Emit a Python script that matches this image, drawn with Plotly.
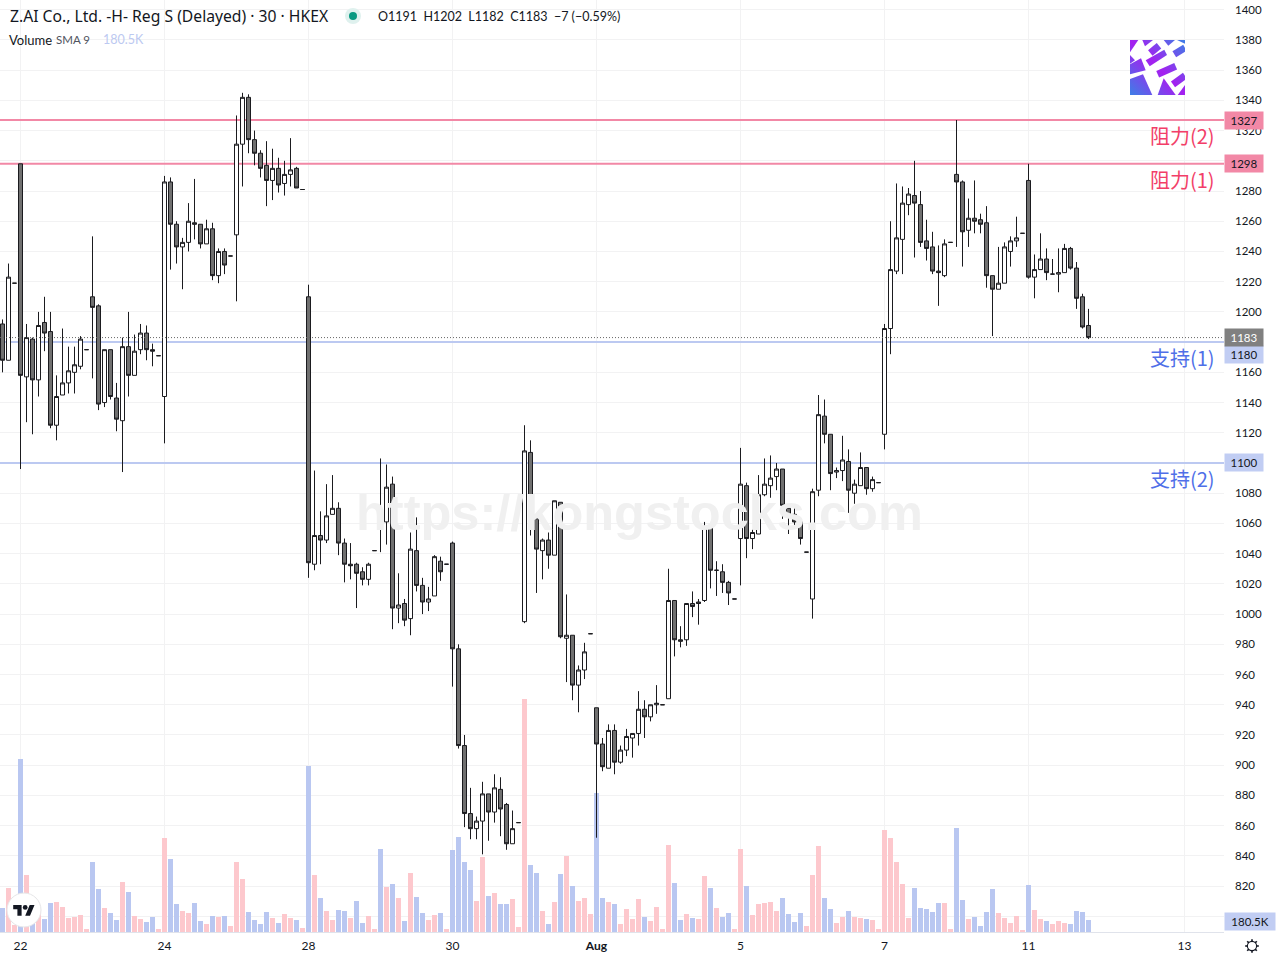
import base64
import plotly.graph_objects as go

FONT = "Lato"
CJK = "Noto Sans CJK SC"

opens = [1192,1168,1219,1298,1157,1182,1155,1193,1187,1125,
1145,1153,1160,1164,1175,1210,1204,1140,1175,1143,
1128,1177,1158,1175,1186,1175,1171,1144,1286,1258,
1243,1246,1259,1258,1245,1255,1224,1240,1237,1251,
1311,1342,1314,1305,1297,1287,1295,1285,1291,1295,
1281,1210,1033,1052,1049,1066,1070,1047,1033,1033,
1028,1023,1042,1067,1061,1086,1004,1007,997,1042,
1019,1008,1012,1035,1033,1047,977,913,868,858,
863,881,869,884,874,848,862,995,1107,1063,
1042,1049,1039,1074,984,986,953,963,987,938,
914,898,923,902,910,918,921,937,932,940,
940,944,1009,983,983,1007,1008,1009,1057,1029,
1028,1021,1010,1050,1085,1050,1053,1079,1085,1091,
1096,1070,1066,1061,1041,1010,1082,1131,1119,1094,
1095,1101,1080,1085,1097,1083,1087,1119,1189,1227,
1248,1271,1277,1271,1247,1243,1227,1224,1246,1291,
1286,1254,1262,1261,1259,1224,1215,1219,1240,1247,
1252,1287,1223,1228,1235,1225,1225,1226,1242,1229,
1210,1191]
highs = [1195,1232,1219,1298,1192,1183,1200,1210,1200,1158,
1189,1177,1177,1184,1175,1250,1205,1175,1175,1153,
1183,1200,1185,1192,1191,1179,1171,1290,1289,1260,
1249,1272,1288,1258,1261,1259,1242,1242,1237,1330,
1345,1344,1320,1307,1313,1308,1302,1300,1315,1296,
1281,1218,1095,1068,1086,1092,1074,1050,1047,1034,
1031,1034,1042,1103,1099,1091,1027,1010,1054,1064,
1024,1018,1039,1038,1033,1048,980,920,885,866,
889,881,894,892,875,870,862,1125,1115,1065,
1050,1054,1075,1074,1013,986,966,981,987,938,
918,927,927,913,924,921,949,943,940,953,
940,1030,1009,992,1007,1015,1010,1061,1060,1035,
1033,1022,1010,1110,1087,1056,1092,1103,1105,1100,
1096,1070,1070,1061,1041,1083,1145,1142,1119,1097,
1118,1109,1089,1107,1097,1091,1087,1192,1260,1285,
1283,1282,1300,1280,1261,1253,1244,1248,1246,1327,
1287,1275,1287,1265,1270,1224,1243,1246,1250,1263,
1252,1298,1238,1252,1242,1235,1242,1245,1243,1233,
1212,1202]
lows = [1160,1168,1219,1096,1127,1119,1144,1174,1123,1115,
1145,1146,1146,1162,1175,1156,1135,1137,1142,1121,
1094,1144,1158,1172,1168,1164,1171,1113,1228,1232,
1215,1240,1248,1242,1245,1221,1219,1225,1237,1207,
1283,1305,1297,1289,1270,1274,1279,1277,1283,1282,
1281,1024,1029,1033,1047,1066,1039,1021,1023,1004,
1019,1019,1042,1041,1046,990,994,992,986,1015,
1000,1002,1012,1022,1033,952,911,859,851,851,
841,850,862,853,844,848,862,994,1052,1014,
1023,1030,1039,984,955,943,935,957,987,852,
896,898,894,901,906,905,913,918,929,934,
940,944,972,978,979,998,993,1008,1017,1012,
1014,1006,1010,1019,1037,1043,1053,1078,1077,1082,
1063,1053,1058,1046,1041,997,1078,1113,1082,1090,
1088,1067,1073,1085,1079,1081,1087,1109,1172,1225,
1225,1264,1236,1243,1234,1225,1204,1223,1246,1243,
1230,1243,1252,1252,1216,1184,1215,1219,1230,1243,
1252,1222,1209,1228,1221,1225,1213,1226,1228,1202,
1189,1182]
closes = [1168,1223,1219,1158,1183,1155,1191,1186,1125,1144,
1153,1161,1165,1182,1175,1203,1139,1175,1144,1129,
1177,1158,1174,1186,1175,1174,1171,1286,1258,1243,
1246,1260,1258,1245,1255,1224,1240,1231,1237,1311,
1342,1314,1305,1295,1287,1295,1284,1291,1294,1282,
1281,1034,1052,1049,1065,1070,1047,1033,1032,1027,
1023,1033,1042,1059,1084,1004,1006,996,1043,1019,
1008,1010,1038,1028,1033,977,913,868,858,863,
881,869,885,871,848,858,862,1108,1060,1043,
1049,1039,1075,985,986,953,963,975,987,914,
899,923,902,910,919,921,937,932,940,941,
940,1009,983,982,1007,1005,1007,1057,1029,1029,
1021,1014,1010,1086,1050,1054,1079,1086,1090,1096,
1072,1066,1061,1050,1041,1081,1132,1119,1093,1095,
1102,1082,1086,1097,1083,1089,1087,1189,1228,1249,
1272,1278,1272,1246,1242,1227,1226,1245,1246,1286,
1253,1262,1260,1258,1224,1215,1219,1243,1247,1249,
1252,1223,1228,1235,1226,1225,1226,1242,1229,1209,
1190,1183]
volumes_k = [360,660,105,2595,855,150,340,195,435,450,
375,210,225,255,45,1050,645,360,285,180,
750,600,240,195,150,225,45,1410,1095,420,
315,285,435,165,120,240,225,240,90,1050,
795,300,180,120,300,210,135,270,210,180,
60,2490,855,510,315,180,330,315,210,465,
135,240,45,1245,675,720,510,165,885,525,
285,180,255,285,45,1230,1425,1050,930,465,
1125,540,585,420,420,495,75,3495,1005,885,
315,120,450,870,1140,690,465,510,270,2085,
510,450,420,120,345,195,495,225,165,375,
45,1305,735,180,270,210,195,840,660,360,
225,285,45,1245,690,255,420,435,450,315,
510,270,150,285,90,855,1290,510,345,135,
225,315,225,210,195,180,45,1530,1410,1050,
720,210,660,360,345,300,435,435,45,1560,
480,195,225,90,300,645,285,210,135,240,
30,705,330,195,165,120,165,135,120,315,
300,180]
volume_up = [0,1,1,0,1,0,1,0,0,1,
1,1,1,1,1,0,0,1,0,0,
1,0,1,1,0,0,1,1,0,0,
1,1,0,0,1,0,1,0,1,1,
1,0,0,0,0,1,0,1,1,0,
1,0,1,0,1,1,0,0,1,0,
0,1,1,0,1,0,1,0,1,0,
0,1,1,0,1,0,0,0,0,1,
1,0,1,0,0,1,1,1,0,0,
1,0,1,0,1,0,1,1,1,0,
0,1,0,1,1,1,1,0,1,1,
1,1,0,0,1,0,1,1,0,1,
0,0,1,1,0,1,1,1,1,1,
0,0,0,0,1,1,1,0,0,1,
1,0,1,1,0,1,1,1,1,1,
1,1,0,0,0,0,0,1,1,0,
0,1,0,0,0,0,1,1,1,1,
1,0,1,1,0,1,1,1,0,0,
0,0]
bar_index = list(range(len(closes)))

tick_bars = [3, 27, 51, 75, 99, 123, 147, 171, 197]
tick_texts = ["22", "24", "28", "30", "<b>Aug</b>", "5", "7", "11", "13"]
price_ticks = list(range(800, 1401, 20))
# these tick labels sit fully behind an opaque price tag in the reference
covered_ticks = [800, 1100, 1180, 1300]

resistance = [1298, 1327]
support = [1180, 1100]
last_price = 1183
last_volume_label = "180.5K"

PINK_LINE = "#f288a6"
BLUE_LINE = "#bcc9f1"
VOL_PINK = "#fdc8cd"
VOL_BLUE = "#b9c7f1"
DARK = "#1b1b1f"
GRID = "#f2f2f3"
PLOT_W, PLOT_H = 1224, 932
X_RANGE = [-2.5 / 6, (PLOT_W - 2.5) / 6]
PRICE_RANGE = [789.6, 1406.42]
VOLUME_RANGE = [0, 13980]


def px(x):
    return x / PLOT_W


def py(y):
    return 1 - y / PLOT_H


def on_volume_axis(price):
    # the "between" shape layer exists only on the base axes, so a price level is
    # expressed in that axis' scale to sit between the grid and the candles
    frac = (price - PRICE_RANGE[0]) / (PRICE_RANGE[1] - PRICE_RANGE[0])
    return VOLUME_RANGE[0] + frac * (VOLUME_RANGE[1] - VOLUME_RANGE[0])


def svg_uri(svg):
    return "data:image/svg+xml;base64," + base64.b64encode(svg.encode()).decode()


fig = go.Figure()
fig.add_trace(go.Bar(
    x=bar_index, y=volumes_k, width=5 / 6, yaxis="y",
    marker=dict(color=[VOL_PINK if u else VOL_BLUE for u in volume_up], line_width=0),
    showlegend=False, hoverinfo="skip",
))
fig.add_trace(go.Candlestick(
    x=bar_index, open=opens, high=highs, low=lows, close=closes, yaxis="y2",
    whiskerwidth=0, showlegend=False,
    increasing=dict(fillcolor="#ffffff", line=dict(color=DARK, width=1)),
    decreasing=dict(fillcolor="#707070", line=dict(color=DARK, width=1)),
))

shapes = []
for lv in resistance:
    shapes.append(dict(type="line", xref="x", x0=X_RANGE[0], x1=X_RANGE[1], yref="y",
                       y0=on_volume_axis(lv), y1=on_volume_axis(lv),
                       line=dict(color=PINK_LINE, width=2), layer="between"))
for lv in support:
    shapes.append(dict(type="line", xref="x", x0=X_RANGE[0], x1=X_RANGE[1], yref="y",
                       y0=on_volume_axis(lv), y1=on_volume_axis(lv),
                       line=dict(color=BLUE_LINE, width=2), layer="between"))
shapes.append(dict(type="line", xref="x", x0=X_RANGE[0], x1=X_RANGE[1], yref="y2", y0=last_price, y1=last_price,
                   line=dict(color="#666666", width=1, dash="1px,2px"), layer="above"))
# status dot next to the title
shapes.append(dict(type="circle", xref="paper", yref="paper", x0=px(345), x1=px(361),
                   y0=py(24), y1=py(8), fillcolor="#dff1ee", line_width=0, layer="above"))
shapes.append(dict(type="circle", xref="paper", yref="paper", x0=px(349), x1=px(357),
                   y0=py(20), y1=py(12), fillcolor="#089981", line_width=0, layer="above"))

annotations = []


def note(x, y, text, size=12, color="#131722", anchor="left", family=FONT, **kw):
    annotations.append(dict(xref="paper", yref="paper", x=px(x), y=py(y), text=text,
                            showarrow=False, xanchor=anchor, yanchor="middle",
                            font=dict(family=family, size=size, color=color), **kw))


annotations.append(dict(xref="paper", yref="paper", x=px(639), y=py(512),
                        text="<b>https://kongstocks.com</b>", showarrow=False,
                        font=dict(family="Liberation Sans", size=50.5, color="#f0f0f0")))
note(7.5, 16, "Z.AI Co., Ltd. -H- Reg S (Delayed) · 30 · HKEX", size=15.7, family="Noto Sans")
note(376, 16, "O1191  H1202  L1182  C1183  −7 (−0.59%)", size=12.5)
note(7, 40, "Volume", size=13)
note(54, 40, "SMA 9", size=11.5, color="#50535e")
note(101, 40, "180.5K", size=12.5, color="#bcc9f1")


def label(value, text, color, shift):
    annotations.append(dict(xref="paper", yref="y2", x=px(1217), y=value, yshift=shift,
                            text=text, showarrow=False, xanchor="right", yanchor="middle",
                            font=dict(family=CJK, size=20, color=color)))


label(1327, "阻力(2)", "#f23e68", -15.5)
label(1298, "阻力(1)", "#f23e68", -15.5)
label(1180, "支持(1)", "#4f6fe8", -15.5)
label(1100, "支持(2)", "#4f6fe8", -15.5)


def tag(value, text, bg, fg="#131722", shift=0):
    annotations.append(dict(xref="paper", yref="y2", x=1, y=value, yshift=shift, text=text,
                            showarrow=False, xanchor="left", yanchor="middle", width=38, height=17,
                            align="center", bgcolor=bg, borderpad=0,
                            font=dict(family=FONT, size=11.5, color=fg)))


tag(1327, "1327", PINK_LINE)
tag(1298, "1298", PINK_LINE)
tag(1180, "1180", "#c1cdf3", shift=-12.5)
tag(1100, "1100", "#c1cdf3")
tag(last_price, "1183", "#808080", fg="#ffffff")
annotations.append(dict(xref="paper", yref="paper", x=1, y=py(921), text=last_volume_label,
                        showarrow=False, xanchor="left", yanchor="middle", width=50, height=17,
                        align="center", bgcolor="#c1cdf3", borderpad=0,
                        font=dict(family=FONT, size=11.5, color="#131722")))

logo_polys = [[(15, 15), (40, 15), (15, 52)], [(52, 15), (84, 15), (60, 34)], [(116, 15), (150, 15), (130, 32)],
              [(15, 60), (30, 76), (15, 86)], [(15, 88), (48, 70), (62, 106), (15, 118)],
              [(15, 132), (54, 118), (82, 180), (15, 180)], [(98, 180), (116, 130), (152, 180)],
              [(158, 180), (180, 150), (180, 180)], [(62, 76), (118, 44), (126, 60), (74, 94)],
              [(156, 15), (180, 15), (180, 26)]]
logo_caps = [((76, 54), (102, 32)), ((148, 58), (180, 38)), ((98, 118), (152, 94)), ((144, 148), (180, 122))]


def logo_xy(p):
    return f"{(p[0]-15)/3:.1f},{(p[1]-15)/3:.1f}"


logo_shapes = "".join(f'<polygon points="{" ".join(logo_xy(p) for p in poly)}" fill="url(#g)"/>' for poly in logo_polys)
logo_shapes += "".join(
    f'<polyline points="{logo_xy(a)} {logo_xy(b)}" stroke="url(#g)" stroke-width="7" fill="none"/>'
    for a, b in logo_caps)
logo_svg = ('<svg xmlns="http://www.w3.org/2000/svg" width="55" height="55" viewBox="0 0 55 55">'
            '<defs><linearGradient id="g" gradientUnits="userSpaceOnUse" x1="0" y1="55" x2="55" y2="0">'
            '<stop offset="0" stop-color="#3d7fe6"/><stop offset="0.5" stop-color="#a51ff0"/>'
            '<stop offset="1" stop-color="#3d7fe6"/></linearGradient></defs>'
            f'<rect width="55" height="55" fill="#fff"/>{logo_shapes}</svg>')
tv_svg = ('<svg xmlns="http://www.w3.org/2000/svg" width="36" height="36" viewBox="0 0 36 36">'
          '<circle cx="18" cy="18" r="17" fill="#fff" stroke="#e6e6e8" stroke-width="1"/>'
          '<g transform="translate(7.2,10.6) scale(0.6)" fill="#131722">'
          '<path d="M14 22H7V11H0V4h14v18zM28 22h-8l7.5-18h8L28 22z"/><circle cx="20" cy="8" r="4"/></g></svg>')
gear_svg = ('<svg xmlns="http://www.w3.org/2000/svg" width="18" height="18" viewBox="0 0 18 18">'
            '<circle cx="9" cy="9" r="4.6" fill="none" stroke="#131722" stroke-width="1.1"/>'
            '<g stroke="#131722" stroke-width="1.6">'
            '<line x1="9" y1="2.2" x2="9" y2="4.6"/><line x1="9" y1="13.4" x2="9" y2="15.8"/>'
            '<line x1="2.2" y1="9" x2="4.6" y2="9"/><line x1="13.4" y1="9" x2="15.8" y2="9"/>'
            '<line x1="4.2" y1="4.2" x2="5.9" y2="5.9"/><line x1="12.1" y1="12.1" x2="13.8" y2="13.8"/>'
            '<line x1="4.2" y1="13.8" x2="5.9" y2="12.1"/><line x1="12.1" y1="5.9" x2="13.8" y2="4.2"/>'
            '</g></svg>')


def image(svg, x, y, w, h):
    return dict(source=svg_uri(svg), xref="paper", yref="paper", x=px(x), y=py(y),
                sizex=w / PLOT_W, sizey=h / PLOT_H, sizing="stretch",
                xanchor="left", yanchor="top", layer="above")


fig.update_layout(
    width=1280, height=960, margin=dict(l=0, r=56, t=0, b=28, autoexpand=False),
    paper_bgcolor="#ffffff", plot_bgcolor="#ffffff", bargap=0, boxgap=1 / 3, boxgroupgap=0,
    dragmode=False, showlegend=False,
    font=dict(family=FONT, size=12, color="#131722"),
    xaxis=dict(range=X_RANGE, tickmode="array", tickvals=tick_bars, ticktext=tick_texts,
               showgrid=True, gridcolor=GRID, gridwidth=1, zeroline=False, showline=True,
               linecolor="#e0e3eb", linewidth=1, ticks="", ticklabelstandoff=3,
               rangeslider=dict(visible=False), tickfont=dict(family=FONT, size=12, color="#131722")),
    yaxis=dict(range=VOLUME_RANGE, visible=False, fixedrange=True),
    yaxis2=dict(range=PRICE_RANGE, overlaying="y", side="right", tickmode="array",
                tickvals=price_ticks, ticktext=["" if v in covered_ticks else str(v) for v in price_ticks],
                showgrid=True, gridcolor=GRID, gridwidth=1, zeroline=False, showline=False,
                ticks="", ticklabelstandoff=10, tickfont=dict(family=FONT, size=11.5, color="#131722")),
    shapes=shapes, annotations=annotations,
    images=[image(logo_svg, 1130, 40, 55, 55), image(tv_svg, 6, 892, 36, 36), image(gear_svg, 1243, 937, 18, 18)],
)

fig.write_html("out.html", config={"displayModeBar": False},
               post_script="document.body.style.margin='0';document.documentElement.style.overflow='hidden';")
